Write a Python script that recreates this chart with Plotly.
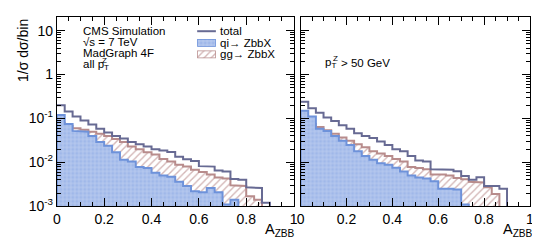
import numpy as np
import plotly.graph_objects as go

# ---------------- data ----------------
n_bins = 30
bin_lo, bin_hi = 0.0, 1.0

left_total = [0.200, 0.143, 0.111, 0.090, 0.073, 0.058, 0.048, 0.040, 0.035, 0.029,
              0.026, 0.023, 0.020, 0.0185, 0.0172, 0.0134, 0.0118, 0.0108, 0.0082, 0.0080,
              0.0065, 0.0062, 0.0042, 0.0040, 0.0027, 0.0026, 0.0012, 0.0, 0.0, 0.0]
left_qi = [0.120, 0.075, 0.052, 0.050, 0.040, 0.029, 0.024, 0.017, 0.0114, 0.0104,
           0.0078, 0.0074, 0.0058, 0.0050, 0.0047, 0.0036, 0.0029, 0.0022, 0.0021, 0.0026,
           0.0021, 0.0011, 0.0014, 0.0, 0.0, 0.0, 0.0, 0.0, 0.0, 0.0]
left_gg = [0.080, 0.068, 0.060, 0.055, 0.050, 0.045, 0.040, 0.034, 0.029, 0.023,
           0.020, 0.017, 0.015, 0.012, 0.0104, 0.0088, 0.0080, 0.0068, 0.0060, 0.0053,
           0.0045, 0.0043, 0.0030, 0.0029, 0.0017, 0.0014, 0.0, 0.0, 0.0, 0.0]

right_total = [0.240, 0.170, 0.135, 0.105, 0.088, 0.070, 0.058, 0.046, 0.040, 0.036,
               0.030, 0.025, 0.020, 0.018, 0.0140, 0.0110, 0.0105, 0.0070, 0.0068, 0.0068,
               0.0063, 0.0049, 0.0040, 0.0046, 0.0029, 0.0029, 0.0025, 0.0, 0.0, 0.0]
right_qi = [0.150, 0.110, 0.058, 0.052, 0.040, 0.031, 0.025, 0.018, 0.014, 0.0115,
            0.0095, 0.0088, 0.0075, 0.0062, 0.0050, 0.0045, 0.0043, 0.0037, 0.0025, 0.0025,
            0.0024, 0.0011, 0.0, 0.0, 0.0, 0.0, 0.0, 0.0, 0.0, 0.0]
right_gg = [0.090, 0.075, 0.064, 0.054, 0.045, 0.037, 0.031, 0.026, 0.022, 0.018,
            0.016, 0.014, 0.012, 0.0105, 0.0078, 0.0074, 0.0070, 0.0053, 0.0053, 0.0050,
            0.0044, 0.0041, 0.0036, 0.0035, 0.0027, 0.0019, 0.0, 0.0, 0.0, 0.0]

x_tick_vals = [0, 0.2, 0.4, 0.6, 0.8, 1]
x_tick_text = ["0", "0.2", "0.4", "0.6", "0.8", "1"]
y_tick_vals = [1e-3, 1e-2, 1e-1, 1, 10]
y_tick_text = ["10<sup>-3</sup>", "10<sup>-2</sup>", "10<sup>-1</sup>", "1", "10"]

# ---------------- style ----------------
OFF = 8                 # the page body has an 8px margin
W, H = 540 - OFF, 252 - OFF
C_TOTAL = "#676a93"
C_QI_LINE = "#6e92da"
C_QI_FILL = "#a0b8e9"
C_QI_DOTS = "#e6ecf9"
C_GG_LINE = "#b88c8c"
C_GG_HATCH = "#a86e6e"
FONT = "Liberation Sans"
FLOOR = 1e-7  # below the visible range, used for empty bins / baseline

edges = np.linspace(bin_lo, bin_hi, n_bins + 1)


def px(x):
    return (x - OFF) / W


def py(y):
    return 1 - (y - OFF) / H


def step_path(values, closed):
    v = np.where(np.asarray(values, float) > 0, values, FLOOR)
    xs, ys = [], []
    for i in range(n_bins):
        xs += [edges[i], edges[i + 1]]
        ys += [v[i], v[i]]
    if closed:
        xs += [edges[-1], edges[0], edges[0]]
        ys += [FLOOR, FLOOR, v[0]]
    return xs, ys


qi_pattern = dict(shape="+", fgcolor=C_QI_DOTS, bgcolor=C_QI_FILL, size=4, solidity=0.3)
gg_pattern = dict(shape="/", fgcolor=C_GG_HATCH, bgcolor="rgba(255,255,255,0)",
                  size=5, solidity=0.28)

fig = go.Figure()

panels = [
    ("x", "y", left_total, left_qi, left_gg),
    ("x2", "y2", right_total, right_qi, right_gg),
]
for xa, ya, tot, qi, gg in panels:
    xs, ys = step_path(gg, True)
    fig.add_trace(go.Scatter(
        x=xs, y=ys, xaxis=xa, yaxis=ya, mode="lines", fill="toself",
        fillcolor="rgba(255,255,255,0)", fillpattern=gg_pattern,
        line=dict(color=C_GG_LINE, width=2), showlegend=False, hoverinfo="skip"))
    xs, ys = step_path(qi, True)
    fig.add_trace(go.Scatter(
        x=xs, y=ys, xaxis=xa, yaxis=ya, mode="lines", fill="toself",
        fillcolor=C_QI_FILL, fillpattern=qi_pattern,
        line=dict(color=C_QI_LINE, width=2), showlegend=False, hoverinfo="skip"))
    xs, ys = step_path(tot, False)
    fig.add_trace(go.Scatter(
        x=xs, y=ys, xaxis=xa, yaxis=ya, mode="lines",
        line=dict(color=C_TOTAL, width=2), showlegend=False, hoverinfo="skip"))

# legend swatches on tiny helper axes
sw_x = [0, 1, 1, 0, 0]
sw_y = [0, 0, 1, 1, 0]
fig.add_trace(go.Scatter(
    x=sw_x, y=sw_y, xaxis="x3", yaxis="y3", mode="lines", fill="toself",
    fillcolor=C_QI_FILL, fillpattern=qi_pattern,
    line=dict(color=C_QI_LINE, width=1.5), showlegend=False, hoverinfo="skip"))
fig.add_trace(go.Scatter(
    x=sw_x, y=sw_y, xaxis="x4", yaxis="y4", mode="lines", fill="toself",
    fillcolor="white", fillpattern=gg_pattern,
    line=dict(color=C_GG_LINE, width=1.5), showlegend=False, hoverinfo="skip"))

minor_y = [k * 10.0 ** e for e in range(-3, 2) for k in range(2, 10) if k * 10.0 ** e <= 20]

xcommon = dict(range=[bin_lo, bin_hi + 0.0005], tickmode="array", tickvals=x_tick_vals,
               ticktext=x_tick_text, ticks="inside", ticklen=8,
               tickcolor="black", showline=True, linecolor="black", linewidth=1,
               mirror="ticks", showgrid=False, zeroline=False,
               tickfont=dict(family=FONT, size=14, color="black"),
               minor=dict(tick0=0, dtick=0.05, ticks="inside", ticklen=4, tickcolor="black",
                          showgrid=False))
ycommon = dict(type="log", range=[-3, np.log10(20)], tickmode="array",
               tickvals=y_tick_vals, ticktext=y_tick_text, ticks="inside", ticklen=8,
               tickcolor="black", showline=True, linecolor="black", linewidth=1,
               mirror="ticks", showgrid=False, zeroline=False,
               tickfont=dict(family=FONT, size=14, color="black"),
               minor=dict(tickmode="array", tickvals=minor_y, ticks="inside", ticklen=4,
                          tickcolor="black", showgrid=False))

ydom = [py(213), py(17.7)]
hidden = dict(visible=False, range=[0, 1], fixedrange=True)

fig.update_layout(
    width=W, height=H, margin=dict(l=0, r=0, t=0, b=0),
    paper_bgcolor="white", plot_bgcolor="white",
    xaxis=dict(domain=[px(53.5), px(294)], anchor="y", **xcommon),
    yaxis=dict(domain=ydom, anchor="x", **ycommon),
    xaxis2=dict(domain=[px(301), px(534)], anchor="y2", **xcommon),
    yaxis2=dict(domain=ydom, anchor="x2", showticklabels=False,
                **{k: v for k, v in ycommon.items() if k != "tickfont"}),
    xaxis3=dict(domain=[px(196), px(215)], anchor="y3", **hidden),
    yaxis3=dict(domain=[py(48), py(40)], anchor="x3", **hidden),
    xaxis4=dict(domain=[px(196), px(215)], anchor="y4", **hidden),
    yaxis4=dict(domain=[py(60), py(52)], anchor="x4", **hidden),
    showlegend=False,
)

fig.add_shape(type="line", xref="paper", yref="paper", x0=px(196), x1=px(215),
              y0=py(32), y1=py(32), line=dict(color=C_TOTAL, width=2))


def txt(s, x, y, size=11.5, xanchor="left", yanchor="middle", angle=0):
    fig.add_annotation(text=s, x=px(x), y=py(y), xref="paper", yref="paper",
                       showarrow=False, xanchor=xanchor, yanchor=yanchor,
                       textangle=angle, font=dict(family=FONT, size=size, color="black"))


txt("CMS Simulation", 78, 32)
txt("√s = 7 TeV", 78, 43.5)
txt("MadGraph 4F", 78, 55)
txt("all p<sub>T</sub>", 78, 67)
txt("Z", 97.5, 62, size=8)
txt("total", 217, 32)
txt("qi→ ZbbX", 217, 44)
txt("gg→ ZbbX", 217, 56)
txt("p<sub>T</sub>", 324, 65)
txt("Z", 331.5, 60, size=8)
txt("> 50 GeV", 340, 65)
txt("1/σ dσ/bin", 19, 17, size=14, xanchor="center", yanchor="top", angle=-90)
txt("A<sub>ZBB</sub>", 263, 238, size=14.5, xanchor="left")
txt("A<sub>ZBB</sub>", 504, 238, size=14.5, xanchor="left")

fig.write_html("out.html")
